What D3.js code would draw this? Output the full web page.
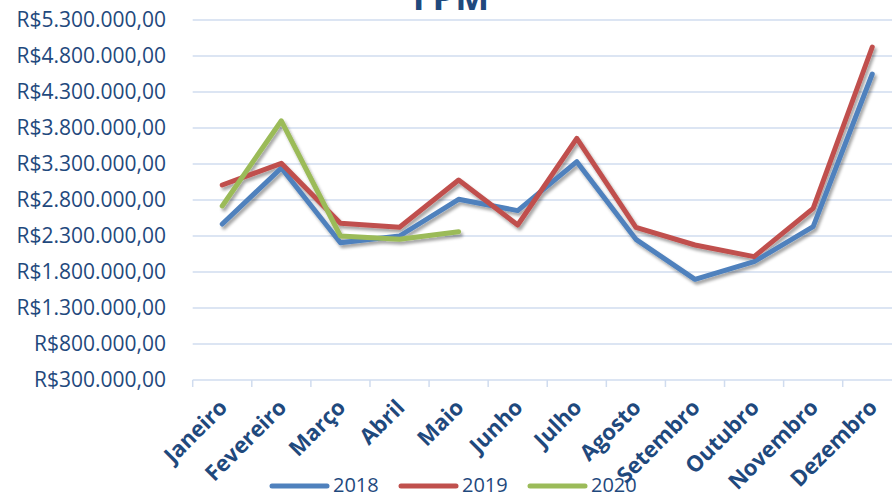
<!DOCTYPE html>
<html>
<head>
<meta charset="utf-8">
<script src="https://cdn.jsdelivr.net/npm/d3@7"></script>
<style>
html,body{margin:0;padding:0;background:#fff;overflow:hidden;}
svg{display:block;}
</style>
</head>
<body>
<svg id="chart" width="892" height="495"></svg>
<script>
const title = "FPM";
const months = ["Janeiro","Fevereiro","Março","Abril","Maio","Junho","Julho","Agosto","Setembro","Outubro","Novembro","Dezembro"];
const years = ["2018","2019","2020"];
const values2018 = [2467000,3244000,2207000,2300000,2810000,2652000,3332000,2254000,1698000,1943000,2429000,4550000];
const values2019 = [3008000,3310000,2476000,2421000,3078000,2453000,3657000,2421000,2175000,2013000,2684000,4925000];
const values2020 = [2717000,3900000,2300000,2254000,2360000];
const yTicks = [300000,800000,1300000,1800000,2300000,2800000,3300000,3800000,4300000,4800000,5300000];
const colors = ["#4F81BD","#C0504D","#9BBB59"];

const seriesList = [values2018, values2019, values2020];
const textColor = "#1F497D";
const gridColor = "#D0DCEF";

const svg = d3.select("#chart");
const defs = svg.append("defs");
const f = defs.append("filter").attr("id","shadow").attr("x","-10%").attr("y","-10%").attr("width","130%").attr("height","130%");
f.append("feDropShadow").attr("dx",2).attr("dy",3).attr("stdDeviation",1.8).attr("flood-color","#000").attr("flood-opacity",0.35);

const x = d3.scaleBand().domain(months).range([192.7, 901.8]);
const y = d3.scaleLinear().domain([300000, 5300000]).range([380, 20]);

const fmt = v => "R$" + d3.format(",")(v).replace(/,/g, ".") + ",00";

// gridlines
svg.append("g").selectAll("line").data(yTicks.slice(1)).join("line")
  .attr("x1", 192.7).attr("x2", 901.8)
  .attr("y1", d => y(d)).attr("y2", d => y(d))
  .attr("stroke", gridColor).attr("stroke-width", 1.5);

// y axis labels
const yAxis = svg.append("g").attr("transform","translate(166,0)")
  .call(d3.axisLeft(y).tickValues(yTicks).tickFormat(fmt).tickSize(0).tickPadding(0));
yAxis.select(".domain").remove();
yAxis.selectAll("text").attr("fill", textColor).attr("font-family","'Open Sans', sans-serif").attr("font-size","21px").attr("dy","0.33em");

// x axis
const xAxisG = svg.append("g").attr("transform","translate(0,380)");
xAxisG.append("line").attr("x1",192.7).attr("x2",901.8).attr("y1",0).attr("y2",0).attr("stroke",gridColor).attr("stroke-width",1.5);
const bounds = months.map(m => x(m));
xAxisG.selectAll("line.tk").data(bounds).join("line").attr("class","tk")
  .attr("x1", d => d).attr("x2", d => d).attr("y1",0).attr("y2",7)
  .attr("stroke",gridColor).attr("stroke-width",1.5);
xAxisG.selectAll("text").data(months).join("text")
  .attr("transform", d => `translate(${x(d) + x.bandwidth()/2 + 1},${23.5}) rotate(-45)`)
  .attr("text-anchor","end")
  .attr("dy","0.35em")
  .attr("fill", textColor)
  .attr("font-family","'Open Sans', sans-serif")
  .attr("font-weight","bold")
  .attr("font-size","22px")
  .text(d => d);

// lines
const line = d3.line()
  .x((d,i) => x(months[i]) + x.bandwidth()/2)
  .y(d => y(d));
svg.append("g").attr("filter","url(#shadow)").selectAll("path").data(seriesList).join("path")
  .attr("d", d => line(d))
  .attr("fill","none")
  .attr("stroke", (d,i) => colors[i])
  .attr("stroke-width", 5)
  .attr("stroke-linejoin","round")
  .attr("stroke-linecap","round");

// title
svg.append("text").attr("x", 451).attr("y", 10).attr("text-anchor","middle")
  .attr("fill", textColor).attr("font-family","'Open Sans', sans-serif")
  .attr("font-weight","bold").attr("font-size","36px").text(title);

// legend
const legendX = [272, 401, 530];
const lg = svg.append("g");
years.forEach((yr,i) => {
  lg.append("line").attr("x1", legendX[i]).attr("x2", legendX[i] + 55).attr("y1", 486).attr("y2", 486)
    .attr("stroke", colors[i]).attr("stroke-width", 5).attr("stroke-linecap","round");
  lg.append("text").attr("x", legendX[i] + 61).attr("y", 485).attr("dy","0.35em")
    .attr("fill", textColor).attr("font-family","'Open Sans', sans-serif").attr("font-size","20px").text(yr);
});
</script>
</body>
</html>
